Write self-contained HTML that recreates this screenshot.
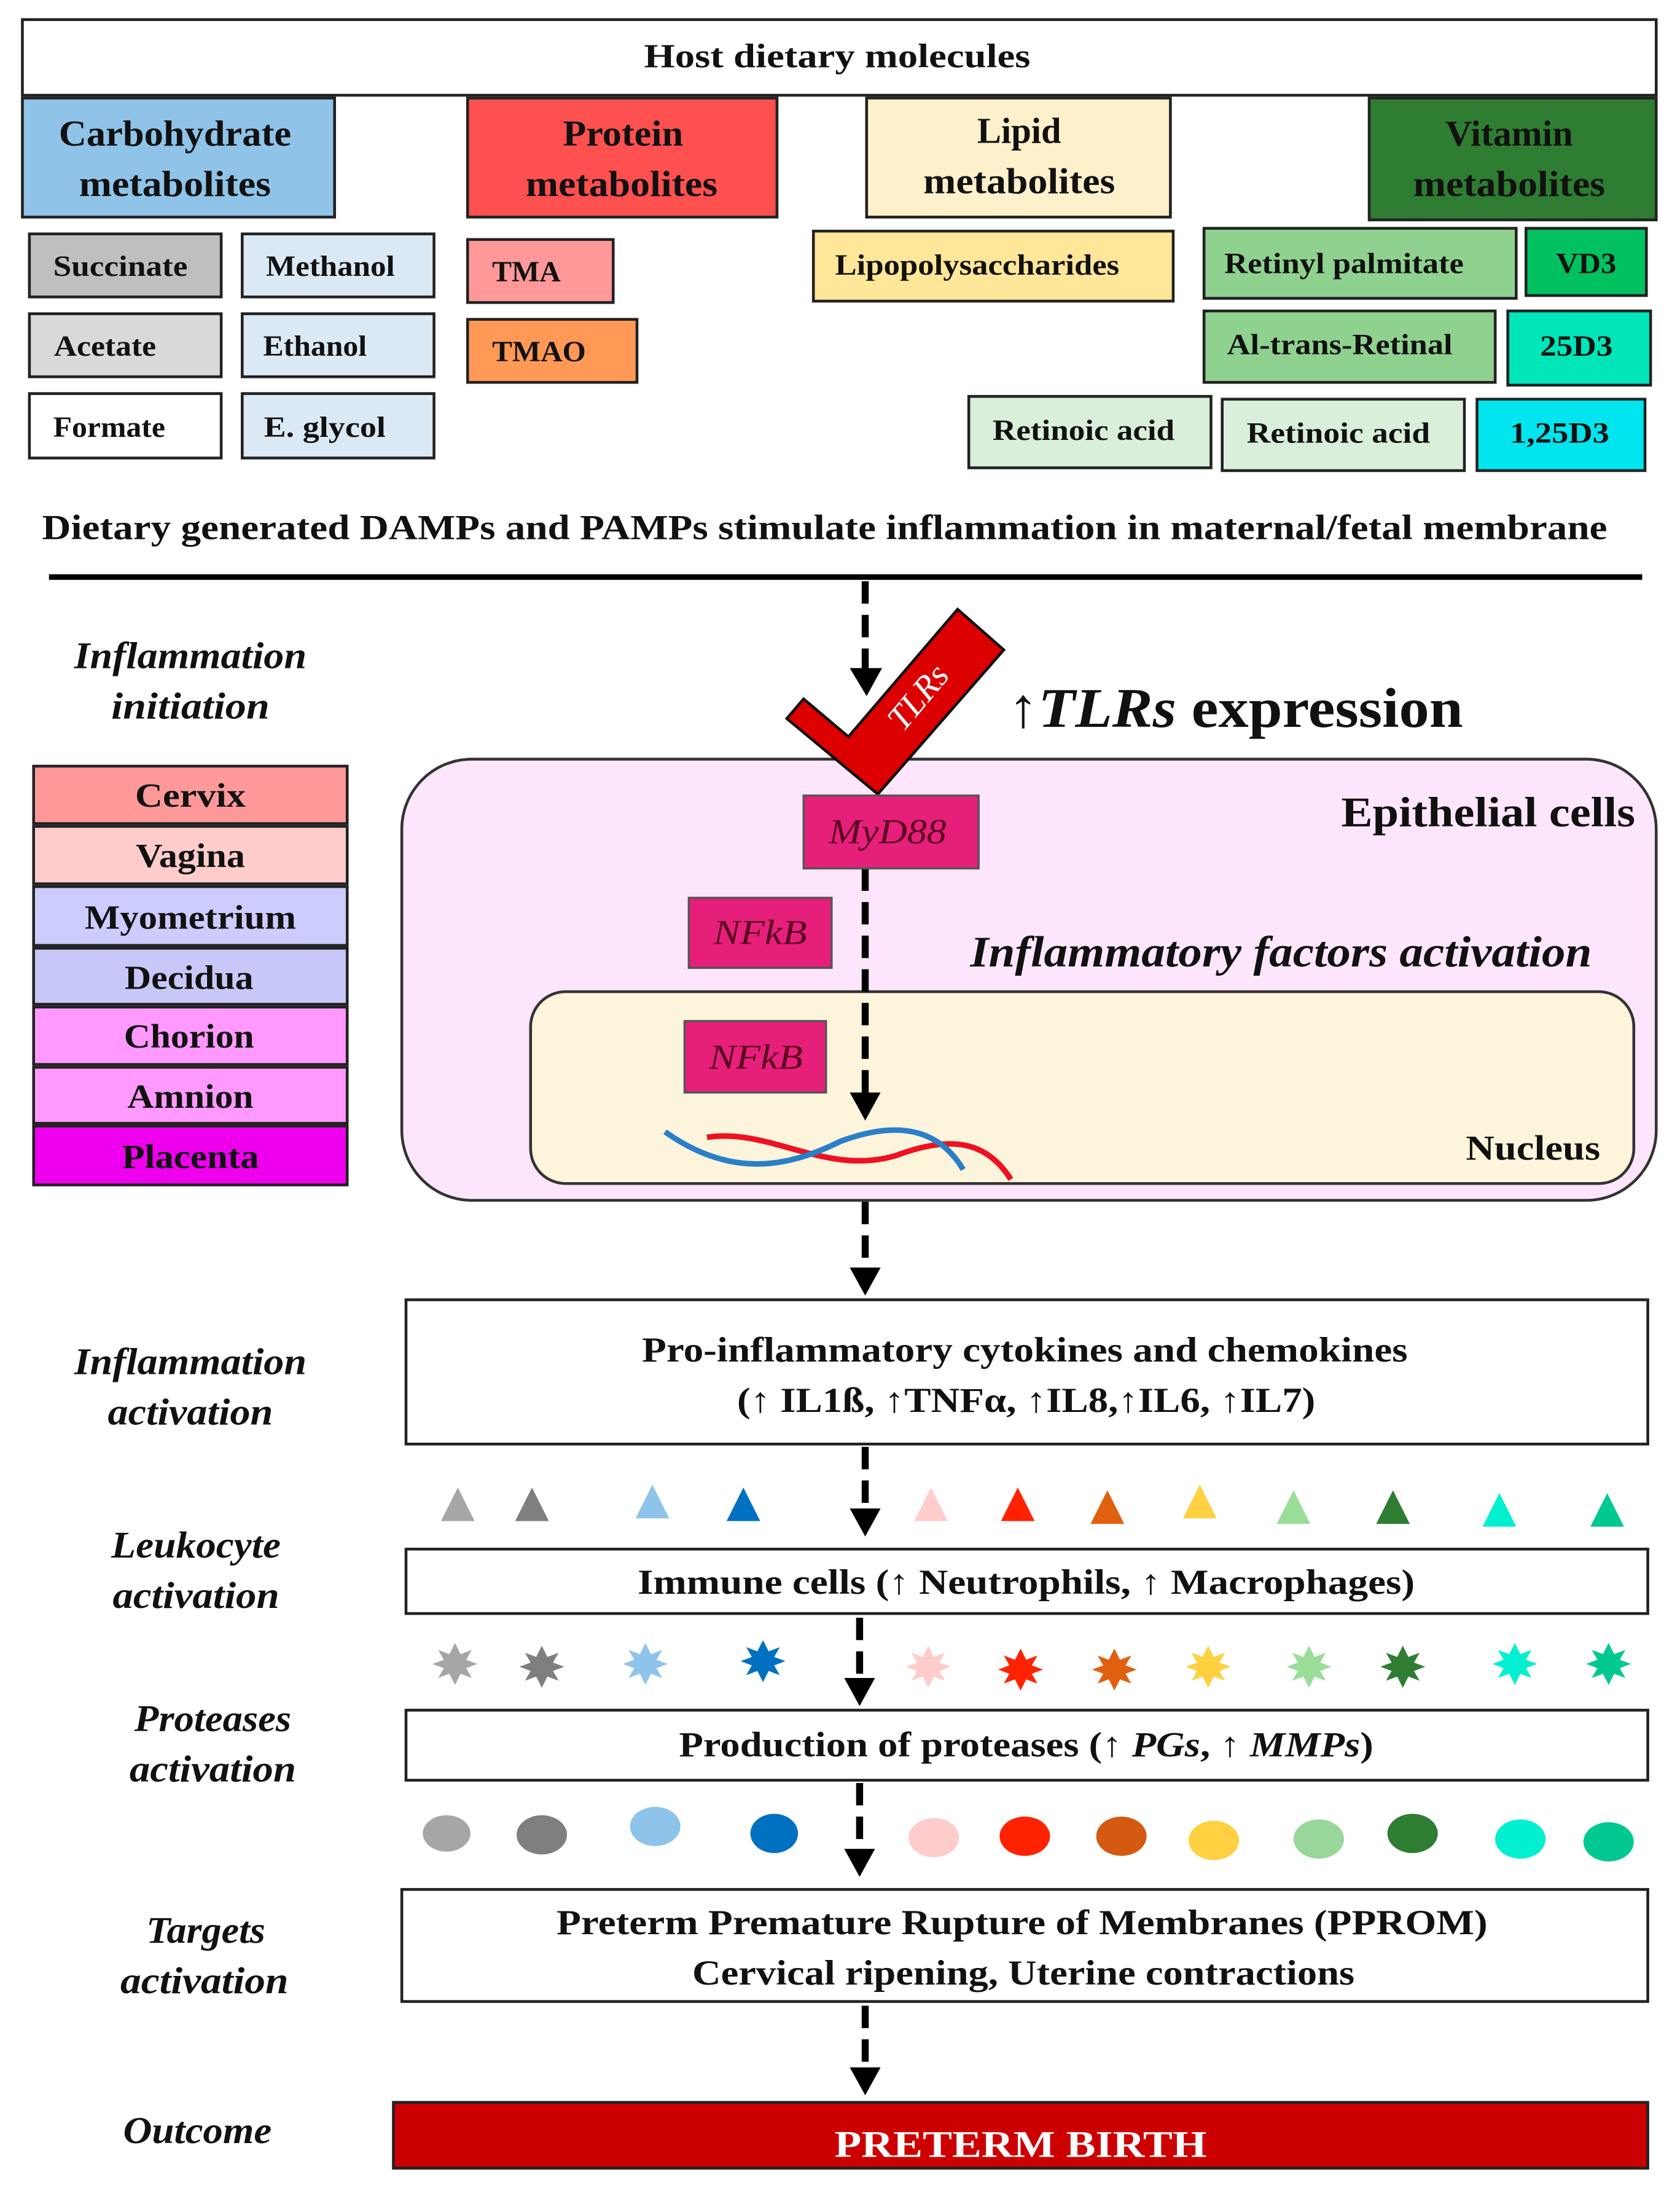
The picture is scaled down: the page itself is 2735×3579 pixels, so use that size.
<!DOCTYPE html>
<html><head><meta charset="utf-8"><style>html,body{margin:0;padding:0;background:#fff}svg{display:block}</style></head>
<body>
<svg width="2735" height="3579" viewBox="0 0 1200 1570" preserveAspectRatio="none" xmlns="http://www.w3.org/2000/svg" font-family="'Liberation Serif', serif" font-weight="bold">
<g stroke="#222" stroke-width="2">
<rect x="16" y="14" width="1167" height="54" fill="#fff"/>
<rect x="16" y="70" width="223" height="85" fill="#8fc3e8"/>
<rect x="334" y="70" width="221" height="85" fill="#ff5050"/>
<rect x="619" y="70" width="217" height="85" fill="#fff0cc"/>
<rect x="978" y="70" width="205" height="87" fill="#2e7d32"/>
<rect x="21" y="167" width="137" height="45" fill="#bfbfbf"/>
<rect x="173" y="167" width="137" height="45" fill="#dbe9f5"/>
<rect x="21" y="224" width="137" height="45" fill="#d9d9d9"/>
<rect x="173" y="224" width="137" height="45" fill="#dbe9f5"/>
<rect x="21" y="281" width="137" height="46" fill="#fff"/>
<rect x="173" y="281" width="137" height="46" fill="#dbe9f5"/>
<rect x="334" y="171" width="104" height="45" fill="#ff9999"/>
<rect x="334" y="228" width="121" height="45" fill="#ff9955"/>
<rect x="581" y="165" width="257" height="50" fill="#ffe699"/>
<rect x="860" y="163" width="223" height="50" fill="#8fd18f"/>
<rect x="1090" y="163" width="86" height="48" fill="#00c060"/>
<rect x="860" y="222" width="208" height="51" fill="#8fd18f"/>
<rect x="1077" y="222" width="102" height="53" fill="#00e6b8"/>
<rect x="692" y="283" width="173" height="51" fill="#d9efd9"/>
<rect x="873" y="285" width="173" height="51" fill="#d9efd9"/>
<rect x="1055" y="285" width="120" height="51" fill="#00e5ee"/>
</g>
<g text-anchor="middle" font-size="22" fill="#111" lengthAdjust="spacingAndGlyphs">
<text x="598" y="48" font-size="24" textLength="276" lengthAdjust="spacingAndGlyphs">Host dietary molecules</text>
<text x="125" y="104" font-size="26" textLength="166" lengthAdjust="spacingAndGlyphs">Carbohydrate</text><text x="125" y="140" font-size="26" textLength="137" lengthAdjust="spacingAndGlyphs">metabolites</text>
<text x="445" y="104" font-size="26" textLength="86" lengthAdjust="spacingAndGlyphs">Protein</text><text x="444" y="140" font-size="26" textLength="137" lengthAdjust="spacingAndGlyphs">metabolites</text>
<text x="728" y="102" font-size="26" textLength="60" lengthAdjust="spacingAndGlyphs">Lipid</text><text x="728" y="138" font-size="26" textLength="137" lengthAdjust="spacingAndGlyphs">metabolites</text>
<text x="1078" y="104" font-size="26" textLength="91" lengthAdjust="spacingAndGlyphs">Vitamin</text><text x="1078" y="140" font-size="26" textLength="137" lengthAdjust="spacingAndGlyphs">metabolites</text>
<text x="86" y="197" font-size="21" textLength="96" lengthAdjust="spacingAndGlyphs">Succinate</text>
<text x="236" y="197" font-size="21" textLength="92" lengthAdjust="spacingAndGlyphs">Methanol</text>
<text x="75" y="254" font-size="21" textLength="73" lengthAdjust="spacingAndGlyphs">Acetate</text>
<text x="225" y="254" font-size="21" textLength="74" lengthAdjust="spacingAndGlyphs">Ethanol</text>
<text x="78" y="312" font-size="21" textLength="80" lengthAdjust="spacingAndGlyphs">Formate</text>
<text x="232" y="312" font-size="21" textLength="87" lengthAdjust="spacingAndGlyphs">E. glycol</text>
<text x="376" y="201" font-size="21" textLength="49" lengthAdjust="spacingAndGlyphs">TMA</text>
<text x="385" y="258" font-size="21" textLength="67" lengthAdjust="spacingAndGlyphs">TMAO</text>
<text x="698" y="196" font-size="21" textLength="203" lengthAdjust="spacingAndGlyphs">Lipopolysaccharides</text>
<text x="960" y="195" font-size="21" textLength="171" lengthAdjust="spacingAndGlyphs">Retinyl palmitate</text>
<text x="1133" y="195" font-size="21" textLength="43" lengthAdjust="spacingAndGlyphs">VD3</text>
<text x="957" y="253" font-size="21" textLength="161" lengthAdjust="spacingAndGlyphs">Al-trans-Retinal</text>
<text x="1126" y="254" font-size="21" textLength="52" lengthAdjust="spacingAndGlyphs">25D3</text>
<text x="774" y="314" font-size="21" textLength="130" lengthAdjust="spacingAndGlyphs">Retinoic acid</text>
<text x="956" y="316" font-size="21" textLength="131" lengthAdjust="spacingAndGlyphs">Retinoic acid</text>
<text x="1114" y="316" font-size="21" textLength="71" lengthAdjust="spacingAndGlyphs">1,25D3</text>
<text x="589" y="385" font-size="25" textLength="1118" lengthAdjust="spacingAndGlyphs">Dietary generated DAMPs and PAMPs stimulate inflammation in maternal/fetal membrane</text>
</g>
<line x1="35" y1="412" x2="1173" y2="412" stroke="#000" stroke-width="4"/>
<g text-anchor="middle" font-style="italic" font-size="27" fill="#111">
<text x="136" y="477" textLength="166" lengthAdjust="spacingAndGlyphs">Inflammation</text><text x="136" y="513" textLength="113" lengthAdjust="spacingAndGlyphs">initiation</text>
<text x="136" y="981" textLength="166" lengthAdjust="spacingAndGlyphs">Inflammation</text><text x="136" y="1017" textLength="118" lengthAdjust="spacingAndGlyphs">activation</text>
<text x="140" y="1112" textLength="121" lengthAdjust="spacingAndGlyphs">Leukocyte</text><text x="140" y="1148" textLength="119" lengthAdjust="spacingAndGlyphs">activation</text>
<text x="152" y="1236" textLength="112" lengthAdjust="spacingAndGlyphs">Proteases</text><text x="152" y="1272" textLength="119" lengthAdjust="spacingAndGlyphs">activation</text>
<text x="147" y="1387" textLength="85" lengthAdjust="spacingAndGlyphs">Targets</text><text x="146" y="1423" textLength="120" lengthAdjust="spacingAndGlyphs">activation</text>
<text x="141" y="1530" textLength="106" lengthAdjust="spacingAndGlyphs">Outcome</text>
</g>
<g stroke="#222" stroke-width="2">
<rect x="24" y="547" width="224" height="41" fill="#ff9999"/>
<rect x="24" y="590" width="224" height="41" fill="#ffcccc"/>
<rect x="24" y="633" width="224" height="42" fill="#ccccff"/>
<rect x="24" y="677" width="224" height="40" fill="#c8c8f8"/>
<rect x="24" y="719" width="224" height="41" fill="#ff99ff"/>
<rect x="24" y="762" width="224" height="40" fill="#ff99ff"/>
<rect x="24" y="804" width="224" height="42" fill="#ee00ee"/>
</g>
<g text-anchor="middle" font-size="24" fill="#111">
<text x="136" y="576" textLength="79" lengthAdjust="spacingAndGlyphs">Cervix</text><text x="136" y="619" textLength="78" lengthAdjust="spacingAndGlyphs">Vagina</text><text x="136" y="663" textLength="151" lengthAdjust="spacingAndGlyphs">Myometrium</text>
<text x="135" y="706" textLength="92" lengthAdjust="spacingAndGlyphs">Decidua</text><text x="135" y="748" textLength="93" lengthAdjust="spacingAndGlyphs">Chorion</text><text x="136" y="791" textLength="90" lengthAdjust="spacingAndGlyphs">Amnion</text><text x="136" y="834" textLength="98" lengthAdjust="spacingAndGlyphs">Placenta</text>
</g>
<rect x="287" y="542" width="896" height="315" rx="50" fill="#fde6fb" stroke="#333" stroke-width="2"/>
<rect x="379" y="708" width="788" height="137" rx="25" fill="#fdf4dc" stroke="#333" stroke-width="2"/>
<text x="1063" y="590" text-anchor="middle" font-size="30" fill="#111" textLength="210" lengthAdjust="spacingAndGlyphs">Epithelial cells</text>
<text x="915" y="690" text-anchor="middle" font-size="31" font-style="italic" fill="#111" textLength="444" lengthAdjust="spacingAndGlyphs">Inflammatory factors activation</text>
<text x="1095" y="828" text-anchor="middle" font-size="25" fill="#111" textLength="96" lengthAdjust="spacingAndGlyphs">Nucleus</text>
<g stroke="#000" stroke-width="5" stroke-dasharray="16,8" fill="none">
<line x1="618" y1="415" x2="618" y2="482"/>
<line x1="618" y1="620" x2="618" y2="785"/>
<line x1="618" y1="858" x2="618" y2="910"/>
<line x1="618" y1="1033" x2="618" y2="1082"/>
<line x1="614" y1="1155" x2="614" y2="1203"/>
<line x1="614" y1="1273" x2="614" y2="1325"/>
<line x1="618" y1="1432" x2="618" y2="1481"/>
</g>
<g fill="#000">
<path d="M607,477 L630,477 L619,497 z"/>
<path d="M607,780 L629,780 L618,800 z"/>
<path d="M607,905 L629,905 L618,925 z"/>
<path d="M607,1077 L629,1077 L618,1097 z"/>
<path d="M603,1198 L625,1198 L614,1218 z"/>
<path d="M603,1320 L625,1320 L614,1340 z"/>
<path d="M607,1476 L629,1476 L618,1496 z"/>
</g>
<path d="M562,513 L574,499 L606,526 L684,435 L717,464 L627,567 z" fill="#dd0000" stroke="#111" stroke-width="2"/>
<text transform="translate(662,503) rotate(-50)" text-anchor="middle" font-size="25" font-style="italic" font-weight="normal" fill="#fff">TLRs</text>
<text x="720" y="519" font-size="40" fill="#111" textLength="325" lengthAdjust="spacingAndGlyphs"><tspan font-weight="normal">↑</tspan><tspan font-style="italic">TLRs</tspan> expression</text>
<g stroke="#555" stroke-width="1.5" fill="#e6207a">
<rect x="574" y="568" width="125" height="52"/>
<rect x="492" y="641" width="102" height="50"/>
<rect x="489" y="729" width="101" height="51"/>
</g>
<g text-anchor="middle" font-size="25" font-style="italic" font-weight="normal" fill="#5a0020">
<text x="634" y="602" textLength="84" lengthAdjust="spacingAndGlyphs">MyD88</text><text x="543" y="674" textLength="67" lengthAdjust="spacingAndGlyphs">NFkB</text><text x="540" y="763" textLength="67" lengthAdjust="spacingAndGlyphs">NFkB</text>
</g>
<path d="M505,812 C550,805 590,840 640,825 C680,810 705,815 722,842" stroke="#ee1122" stroke-width="4" fill="none"/>
<path d="M475,808 C520,840 560,835 600,815 C640,800 670,805 688,835" stroke="#2a7fc8" stroke-width="4" fill="none"/>
<g stroke="#222" stroke-width="2" fill="#fff">
<rect x="290" y="928" width="887" height="103"/>
<rect x="290" y="1106" width="887" height="46"/>
<rect x="290" y="1221" width="887" height="50"/>
<rect x="287" y="1349" width="890" height="80"/>
</g>
<rect x="281" y="1501" width="896" height="47" fill="#cc0000" stroke="#222" stroke-width="2"/>
<g text-anchor="middle" font-size="25" fill="#111">
<text x="732" y="972" textLength="547" lengthAdjust="spacingAndGlyphs">Pro-inflammatory cytokines and chemokines</text>
<text x="733" y="1008" textLength="413" lengthAdjust="spacingAndGlyphs">(↑ IL1ß, ↑TNFα, ↑IL8,↑IL6, ↑IL7)</text>
<text x="733" y="1138" textLength="555" lengthAdjust="spacingAndGlyphs">Immune cells (↑ Neutrophils, ↑ Macrophages)</text>
<text x="733" y="1254" textLength="496" lengthAdjust="spacingAndGlyphs">Production of proteases (↑ <tspan font-style="italic">PGs</tspan>, ↑ <tspan font-style="italic">MMPs</tspan>)</text>
<text x="730" y="1381" textLength="665" lengthAdjust="spacingAndGlyphs">Preterm Premature Rupture of Membranes (PPROM)</text>
<text x="731" y="1417" textLength="473" lengthAdjust="spacingAndGlyphs">Cervical ripening, Uterine contractions</text>
<text x="729" y="1540" fill="#fff" font-size="27" textLength="266" lengthAdjust="spacingAndGlyphs">PRETERM BIRTH</text>
</g>
<g>
<path d="M327,1062 L339,1086 L315,1086 z" fill="#a6a6a6"/>
<path d="M380,1062 L392,1086 L368,1086 z" fill="#7f7f7f"/>
<path d="M466,1060 L478,1084 L454,1084 z" fill="#8ec4ea"/>
<path d="M531,1062 L543,1086 L519,1086 z" fill="#0070c0"/>
<path d="M665,1062 L677,1086 L653,1086 z" fill="#ffcccc"/>
<path d="M727,1062 L739,1086 L715,1086 z" fill="#ff2200"/>
<path d="M791,1064 L803,1088 L779,1088 z" fill="#e06010"/>
<path d="M857,1060 L869,1084 L845,1084 z" fill="#ffd040"/>
<path d="M924,1064 L936,1088 L912,1088 z" fill="#99dd99"/>
<path d="M995,1064 L1007,1088 L983,1088 z" fill="#2e7d32"/>
<path d="M1071,1066 L1083,1090 L1059,1090 z" fill="#00f0d0"/>
<path d="M1148,1066 L1160,1090 L1136,1090 z" fill="#00c890"/>
</g>
<g>
<polygon transform="translate(325,1188)" points="0,-15 4,-7 12,-10 8,-3 16,0 8,3 12,10 4,7 0,15 -4,7 -12,10 -8,3 -16,0 -8,-3 -12,-10 -4,-7" fill="#a6a6a6"/>
<polygon transform="translate(387,1190)" points="0,-15 4,-7 12,-10 8,-3 16,0 8,3 12,10 4,7 0,15 -4,7 -12,10 -8,3 -16,0 -8,-3 -12,-10 -4,-7" fill="#7f7f7f"/>
<polygon transform="translate(461,1188)" points="0,-15 4,-7 12,-10 8,-3 16,0 8,3 12,10 4,7 0,15 -4,7 -12,10 -8,3 -16,0 -8,-3 -12,-10 -4,-7" fill="#8ec4ea"/>
<polygon transform="translate(545,1186)" points="0,-15 4,-7 12,-10 8,-3 16,0 8,3 12,10 4,7 0,15 -4,7 -12,10 -8,3 -16,0 -8,-3 -12,-10 -4,-7" fill="#0070c0"/>
<polygon transform="translate(663,1190)" points="0,-15 4,-7 12,-10 8,-3 16,0 8,3 12,10 4,7 0,15 -4,7 -12,10 -8,3 -16,0 -8,-3 -12,-10 -4,-7" fill="#ffcccc"/>
<polygon transform="translate(729,1192)" points="0,-15 4,-7 12,-10 8,-3 16,0 8,3 12,10 4,7 0,15 -4,7 -12,10 -8,3 -16,0 -8,-3 -12,-10 -4,-7" fill="#ff2200"/>
<polygon transform="translate(796,1192)" points="0,-15 4,-7 12,-10 8,-3 16,0 8,3 12,10 4,7 0,15 -4,7 -12,10 -8,3 -16,0 -8,-3 -12,-10 -4,-7" fill="#e06010"/>
<polygon transform="translate(863,1190)" points="0,-15 4,-7 12,-10 8,-3 16,0 8,3 12,10 4,7 0,15 -4,7 -12,10 -8,3 -16,0 -8,-3 -12,-10 -4,-7" fill="#ffd040"/>
<polygon transform="translate(935,1190)" points="0,-15 4,-7 12,-10 8,-3 16,0 8,3 12,10 4,7 0,15 -4,7 -12,10 -8,3 -16,0 -8,-3 -12,-10 -4,-7" fill="#99dd99"/>
<polygon transform="translate(1002,1190)" points="0,-15 4,-7 12,-10 8,-3 16,0 8,3 12,10 4,7 0,15 -4,7 -12,10 -8,3 -16,0 -8,-3 -12,-10 -4,-7" fill="#2e7d32"/>
<polygon transform="translate(1082,1188)" points="0,-15 4,-7 12,-10 8,-3 16,0 8,3 12,10 4,7 0,15 -4,7 -12,10 -8,3 -16,0 -8,-3 -12,-10 -4,-7" fill="#00f0d0"/>
<polygon transform="translate(1149,1188)" points="0,-15 4,-7 12,-10 8,-3 16,0 8,3 12,10 4,7 0,15 -4,7 -12,10 -8,3 -16,0 -8,-3 -12,-10 -4,-7" fill="#00c890"/>
</g>
<g>
<ellipse cx="319" cy="1309" rx="17" ry="13" fill="#a6a6a6"/>
<ellipse cx="387" cy="1310" rx="18" ry="14" fill="#7f7f7f"/>
<ellipse cx="468" cy="1304" rx="18" ry="14" fill="#8ec4ea"/>
<ellipse cx="553" cy="1309" rx="17" ry="14" fill="#0070c0"/>
<ellipse cx="667" cy="1312" rx="18" ry="14" fill="#ffcccc"/>
<ellipse cx="732" cy="1311" rx="18" ry="14" fill="#ff2200"/>
<ellipse cx="801" cy="1311" rx="18" ry="14" fill="#d35a10"/>
<ellipse cx="867" cy="1314" rx="18" ry="14" fill="#ffd040"/>
<ellipse cx="942" cy="1313" rx="18" ry="14" fill="#99d699"/>
<ellipse cx="1009" cy="1309" rx="18" ry="14" fill="#2e7d32"/>
<ellipse cx="1086" cy="1313" rx="18" ry="14" fill="#00f0d0"/>
<ellipse cx="1149" cy="1315" rx="18" ry="14" fill="#00c890"/>
</g>
</svg>
</body></html>
